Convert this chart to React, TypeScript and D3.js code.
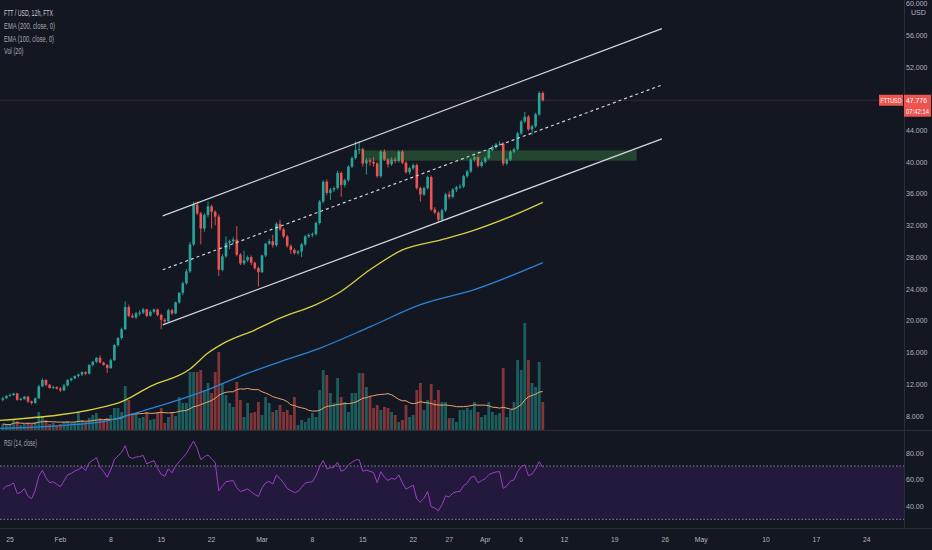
import * as d3 from "d3";
import { useEffect, useRef } from "react";

const W = 932;
const H = 550;

// first 12h candle: 24 Jan 2021 00:00 UTC
const firstBar = Date.UTC(2021, 0, 24);
const barMs = 12 * 3600 * 1000;

const opens = [
  10.0, 10.2, 10.5, 10.6, 10.8, 10.0, 10.1, 10.4, 9.8, 9.6, 10.2, 11.7, 12.5, 11.9, 11.5, 11.6, 11.4, 11.2, 11.8, 12.5,
  12.7, 13.0, 13.2, 13.5, 13.3, 14.4, 14.8, 15.3, 14.7, 14.4, 14.0, 15.0, 16.9, 17.8, 18.9, 21.7, 20.6, 20.4, 20.9, 21.0,
  21.4, 20.6, 21.1, 21.4, 20.7, 20.1, 19.9, 21.3, 20.9, 22.3, 23.5, 24.7, 26.2, 29.6, 34.6, 33.5, 31.6, 33.3, 34.4, 33.7,
  33.1, 26.4, 28.1, 29.8, 30.0, 30.2, 28.3, 27.2, 27.6, 28.0, 27.3, 26.6, 26.1, 28.2, 29.7, 30.0, 29.5, 32.2, 31.5, 30.6,
  29.4, 28.9, 28.5, 28.7, 29.6, 30.6, 30.8, 30.9, 32.3, 35.0, 37.5, 36.1, 36.5, 36.7, 38.6, 37.1, 37.7, 39.4, 40.5, 41.5,
  41.6, 39.8, 40.2, 40.0, 39.8, 38.2, 41.3, 40.3, 39.7, 40.3, 40.1, 41.3, 39.9, 38.7, 39.2, 39.6, 36.7, 35.9, 36.7, 38.1,
  34.0, 33.6, 32.7, 33.9, 35.9, 35.6, 36.5, 36.8, 36.9, 38.2, 38.8, 40.3, 40.6, 39.5, 40.0, 40.5, 41.5, 41.9, 42.2, 42.3,
  39.8, 40.3, 41.3, 41.6, 43.6, 45.1, 45.7, 44.1, 44.5, 46.0, 48.7,
];
const highs = [
  10.4, 10.6, 10.8, 10.9, 10.9, 10.3, 10.5, 10.5, 9.9, 10.3, 11.9, 12.7, 12.6, 12.0, 11.8, 11.7, 11.6, 12.0, 12.6, 12.8,
  13.1, 13.3, 13.6, 13.6, 14.5, 14.9, 15.4, 15.6, 14.8, 14.5, 15.2, 17.0, 17.9, 19.1, 22.4, 22.0, 20.9, 21.1, 21.3, 21.6,
  21.5, 21.3, 21.5, 21.5, 20.9, 20.3, 21.5, 21.5, 22.4, 23.6, 24.9, 26.5, 29.9, 35.0, 35.0, 33.7, 33.5, 35.0, 34.6, 33.9,
  33.4, 28.4, 30.6, 30.2, 30.5, 31.9, 28.5, 28.8, 28.2, 28.2, 27.4, 26.8, 28.3, 29.8, 30.3, 30.8, 32.4, 32.7, 31.7, 30.8,
  29.6, 29.1, 28.9, 29.8, 30.8, 31.0, 31.1, 32.5, 35.2, 37.7, 37.8, 36.7, 36.9, 38.9, 38.8, 37.9, 39.6, 40.7, 42.6, 42.6,
  41.8, 40.5, 40.5, 40.6, 40.0, 41.5, 41.6, 40.5, 40.6, 40.6, 41.5, 41.5, 40.1, 39.4, 39.8, 39.8, 36.9, 36.9, 38.3, 38.3,
  34.3, 33.8, 34.1, 36.1, 36.3, 36.7, 37.0, 37.2, 38.4, 39.0, 40.5, 40.8, 40.8, 40.2, 40.7, 41.7, 42.1, 42.4, 42.6, 42.5,
  40.5, 41.5, 41.8, 43.8, 45.3, 46.3, 45.9, 44.7, 46.2, 48.9, 48.9,
];
const lows = [
  9.8, 10.1, 10.4, 10.5, 9.9, 9.9, 10.0, 9.6, 9.4, 9.5, 10.1, 11.6, 11.7, 11.4, 11.4, 11.3, 11.0, 11.1, 11.7, 12.3,
  12.6, 12.8, 13.0, 13.1, 13.2, 14.2, 14.6, 14.6, 14.3, 13.4, 13.9, 14.9, 16.7, 17.6, 18.8, 20.4, 20.3, 20.2, 20.6, 20.8,
  20.4, 20.5, 20.9, 20.5, 18.9, 19.6, 19.8, 20.7, 20.8, 22.1, 23.2, 24.5, 26.0, 29.4, 33.3, 29.6, 31.2, 33.0, 31.6, 32.0,
  25.6, 26.2, 27.9, 29.0, 29.7, 28.1, 27.0, 27.0, 27.4, 27.0, 26.4, 24.3, 26.0, 28.0, 29.5, 29.2, 29.3, 31.3, 30.4, 29.2,
  28.4, 28.3, 28.3, 28.0, 29.4, 30.4, 30.5, 30.7, 32.1, 34.8, 35.8, 35.2, 36.2, 36.5, 35.6, 36.8, 37.5, 39.2, 40.3, 41.0,
  39.4, 38.4, 39.5, 39.4, 38.0, 38.0, 40.1, 39.3, 39.5, 39.8, 39.9, 39.7, 38.5, 38.4, 39.0, 36.5, 35.0, 35.7, 36.5, 33.8,
  33.4, 32.3, 32.5, 33.7, 35.3, 35.4, 36.2, 36.6, 36.7, 38.0, 38.6, 40.0, 39.3, 39.3, 39.8, 40.3, 41.3, 41.6, 42.0, 39.5,
  39.6, 40.1, 41.1, 41.4, 43.4, 44.9, 43.9, 43.4, 44.3, 45.8, 47.6,
];
const closes = [
  10.2, 10.5, 10.6, 10.8, 10.0, 10.1, 10.4, 9.8, 9.6, 10.2, 11.7, 12.5, 11.9, 11.5, 11.6, 11.4, 11.2, 11.8, 12.5, 12.7,
  13.0, 13.2, 13.5, 13.3, 14.4, 14.8, 15.3, 14.7, 14.4, 14.0, 15.0, 16.9, 17.8, 18.9, 21.7, 20.6, 20.4, 20.9, 21.0, 21.4,
  20.6, 21.1, 21.4, 20.7, 20.1, 19.9, 21.3, 20.9, 22.3, 23.5, 24.7, 26.2, 29.6, 34.6, 33.5, 31.6, 33.3, 34.4, 33.7, 33.1,
  26.4, 28.1, 29.8, 30.0, 30.2, 28.3, 27.2, 27.6, 28.0, 27.3, 26.6, 26.1, 28.2, 29.7, 30.0, 29.5, 32.2, 31.5, 30.6, 29.4,
  28.9, 28.5, 28.7, 29.6, 30.6, 30.8, 30.9, 32.3, 35.0, 37.5, 36.1, 36.5, 36.7, 38.6, 37.1, 37.7, 39.4, 40.5, 41.5, 41.6,
  39.8, 40.2, 40.0, 39.8, 38.2, 41.3, 40.3, 39.7, 40.3, 40.1, 41.3, 39.9, 38.7, 39.2, 39.6, 36.7, 35.9, 36.7, 38.1, 34.0,
  33.6, 32.7, 33.9, 35.9, 35.6, 36.5, 36.8, 36.9, 38.2, 38.8, 40.3, 40.6, 39.5, 40.0, 40.5, 41.5, 41.9, 42.2, 42.3, 39.8,
  40.3, 41.3, 41.6, 43.6, 45.1, 45.7, 44.1, 44.5, 46.0, 48.7, 47.776,
];
const volumes = [
  6, 5, 5, 11, 9, 5, 6, 7, 6, 8, 18, 14, 10, 6, 7, 5, 6, 8, 9, 7,
  8, 18, 10, 8, 12, 15, 17, 12, 10, 12, 15, 22, 22, 18, 44, 30, 17, 16, 12, 13,
  18, 10, 11, 18, 22, 7, 13, 18, 14, 33, 27, 27, 58, 58, 58, 60, 40, 47, 37, 58,
  78, 47, 35, 27, 23, 48, 30, 13, 27, 17, 18, 28, 15, 33, 27, 18, 20, 25, 18, 20,
  15, 33, 5, 10, 8, 12, 17, 13, 40, 60, 55, 37, 27, 52, 33, 28, 18, 37, 37, 57,
  57, 43, 33, 22, 25, 20, 23, 22, 18, 15, 8, 10, 25, 13, 15, 40, 47, 20, 30, 46,
  30, 40, 28, 28, 12, 12, 8, 20, 20, 22, 20, 28, 18, 13, 15, 28, 18, 15, 17, 62,
  13, 20, 28, 70, 60, 107, 70, 47, 43, 68, 28,
];

// EMA lines: [bar index, price]
const ema100Points: [number, number][] = [
  [-1, 7.4], [32, 9.6], [41, 11.7], [52, 13.9], [57, 15.9], [62, 17.3], [70, 18.8], [77, 20.3], [87, 22.0],
  [93, 23.4], [102, 26.4], [111, 28.9], [122, 30.2], [131, 31.4], [141, 33.1], [150, 34.9],
];
const ema200Points: [number, number][] = [
  [-1, 6.4], [27, 7.2], [41, 8.9], [57, 11.3], [66, 13.0], [77, 14.8], [88, 16.5], [102, 19.2], [116, 22.0],
  [131, 23.9], [150, 27.3],
];

// parallel channel drawing
const channelTimes = [Date.UTC(2021, 1, 15, 5), Date.UTC(2021, 3, 25, 13)];
const channelUpper = [33.2, 56.8];
const channelMid = [26.4, 49.7];
const channelLower = [19.45, 42.9];

// green zone drawing
const zoneTimes = [Date.UTC(2021, 2, 14, 20), Date.UTC(2021, 3, 22, 1)];
const zonePrices = [40.15, 41.45];

const priceTicks = [8, 12, 16, 20, 24, 28, 32, 36, 40, 44, 52, 56, 60];
const rsiTicks = [80, 60, 40];
const timeTicks: [number, string][] = [
  [Date.UTC(2021, 0, 25), "25"], [Date.UTC(2021, 1, 1), "Feb"], [Date.UTC(2021, 1, 8), "8"],
  [Date.UTC(2021, 1, 15), "15"], [Date.UTC(2021, 1, 22), "22"], [Date.UTC(2021, 2, 1), "Mar"],
  [Date.UTC(2021, 2, 8), "8"], [Date.UTC(2021, 2, 15), "15"], [Date.UTC(2021, 2, 22), "22"],
  [Date.UTC(2021, 2, 27), "27"], [Date.UTC(2021, 3, 1), "Apr"], [Date.UTC(2021, 3, 6), "6"],
  [Date.UTC(2021, 3, 12), "12"], [Date.UTC(2021, 3, 19), "19"], [Date.UTC(2021, 3, 26), "26"],
  [Date.UTC(2021, 4, 1), "May"], [Date.UTC(2021, 4, 10), "10"], [Date.UTC(2021, 4, 17), "17"],
  [Date.UTC(2021, 4, 24), "24"],
];
const legendLines = ["FTT / USD, 12h, FTX", "EMA (200, close, 0)", "EMA (100, close, 0)", "Vol (20)"];
const legendWidths = [49, 51, 50, 19.5];

const UP = "#26a69a";
const DOWN = "#ef5350";
const BG = "#131722";
const TEXT = "#b2b5be";
const BORDER = "#2a2e39";
const FONT = "'Liberation Sans', Arial, sans-serif";

// TradingView's UI font is narrower than Liberation Sans: squeeze the glyphs
function squeeze(sel: d3.Selection<SVGTextElement, any, any, any>, ratio: number) {
  sel.each(function () {
    const w = this.getComputedTextLength();
    if (w > 0) d3.select(this).attr("textLength", w * ratio).attr("lengthAdjust", "spacingAndGlyphs");
  });
}

export default function App() {
  const svgRef = useRef<SVGSVGElement | null>(null);

  useEffect(() => {
    if (!svgRef.current) return;
    const svg = d3.select(svgRef.current);
    svg.selectAll("*").remove();

    const plotRight = 904;
    const mainBottom = 430;
    const rsiTop = 431;
    const rsiBottom = 528;

    const x = d3.scaleUtc().domain([Date.UTC(2021, 0, 25), Date.UTC(2021, 4, 24)]).range([10, 866.8]);
    const y = d3.scaleLinear().domain([8, 60]).range([415.7, 3.3]);
    const yVol = d3.scaleLinear().domain([0, d3.max(volumes) ?? 1]).range([mainBottom, 323]);
    const yRsi = d3.scaleLinear().domain([40, 80]).range([506, 452.7]);

    const barTime = (i: number) => firstBar + i * barMs;
    const bars = closes.map((c, i) => ({ i, t: barTime(i), o: opens[i], h: highs[i], l: lows[i], c, v: volumes[i] }));

    svg.append("rect").attr("width", W).attr("height", H).attr("fill", BG);

    const defs = svg.append("defs");
    defs.append("clipPath").attr("id", "mainClip").append("rect")
      .attr("x", 0).attr("y", 0).attr("width", plotRight).attr("height", mainBottom);
    defs.append("clipPath").attr("id", "rsiClip").append("rect")
      .attr("x", 0).attr("y", rsiTop).attr("width", plotRight).attr("height", rsiBottom - rsiTop);

    const main = svg.append("g").attr("clip-path", "url(#mainClip)");

    // volume bars
    main.append("g").selectAll("rect").data(bars).join("rect")
      .attr("x", (d) => x(d.t) - 1.4)
      .attr("width", 2.8)
      .attr("y", (d) => yVol(d.v))
      .attr("height", (d) => mainBottom - yVol(d.v))
      .attr("fill", (d) => (d.c >= d.o ? UP : DOWN))
      .attr("fill-opacity", 0.5);

    // volume MA 20
    const volMa = volumes.map((_, i) => d3.mean(volumes.slice(Math.max(0, i - 19), i + 1)) ?? 0);
    main.append("path")
      .datum(volMa)
      .attr("fill", "none")
      .attr("stroke", "#e8a66e")
      .attr("stroke-width", 1)
      .attr("d", d3.line<number>().x((_, i) => x(barTime(i))).y((v) => yVol(v)));

    // EMA lines
    const emaLine = d3.line<[number, number]>()
      .x((d) => x(barTime(d[0])))
      .y((d) => y(d[1]))
      .curve(d3.curveMonotoneX);
    main.append("path").datum(ema200Points).attr("fill", "none").attr("stroke", "#2a83d6")
      .attr("stroke-width", 1.3).attr("d", emaLine);
    main.append("path").datum(ema100Points).attr("fill", "none").attr("stroke", "#d9cf3e")
      .attr("stroke-width", 1.3).attr("d", emaLine);

    // last price line
    const last = closes[closes.length - 1];
    main.append("line")
      .attr("x1", 0).attr("x2", plotRight)
      .attr("y1", y(last)).attr("y2", y(last))
      .attr("stroke", "#35293a").attr("stroke-width", 1);

    // candles
    const candles = main.append("g").selectAll("g").data(bars).join("g");
    candles.append("line")
      .attr("x1", (d) => x(d.t)).attr("x2", (d) => x(d.t))
      .attr("y1", (d) => y(d.h)).attr("y2", (d) => y(d.l))
      .attr("stroke", (d) => (d.c >= d.o ? UP : DOWN))
      .attr("stroke-width", 0.9);
    candles.append("rect")
      .attr("x", (d) => x(d.t) - 1.3)
      .attr("width", 2.6)
      .attr("y", (d) => y(Math.max(d.o, d.c)))
      .attr("height", (d) => Math.max(1, Math.abs(y(d.o) - y(d.c))))
      .attr("fill", (d) => (d.c >= d.o ? UP : DOWN));

    // green zone
    main.append("rect")
      .attr("x", x(zoneTimes[0]))
      .attr("width", x(zoneTimes[1]) - x(zoneTimes[0]))
      .attr("y", y(zonePrices[1]))
      .attr("height", y(zonePrices[0]) - y(zonePrices[1]))
      .attr("fill", "rgba(76,175,80,0.3)");

    // channel
    const chan = (prices: number[], dashed: boolean) =>
      main.append("line")
        .attr("x1", x(channelTimes[0])).attr("y1", y(prices[0]))
        .attr("x2", x(channelTimes[1])).attr("y2", y(prices[1]))
        .attr("stroke", "#d1d4dc")
        .attr("stroke-width", dashed ? 1.2 : 1.3)
        .attr("stroke-dasharray", dashed ? "3 3" : null);
    chan(channelUpper, false);
    chan(channelMid, true);
    chan(channelLower, false);

    // RSI (14) computed from closes, Wilder smoothing
    const rsi: number[] = [];
    let avgGain = 0.22;
    let avgLoss = 0.2;
    closes.forEach((c, i) => {
      if (i > 0) {
        const ch = c - closes[i - 1];
        avgGain = (avgGain * 13 + Math.max(ch, 0)) / 14;
        avgLoss = (avgLoss * 13 + Math.max(-ch, 0)) / 14;
      }
      rsi.push(100 - 100 / (1 + avgGain / avgLoss));
    });

    const rsiG = svg.append("g").attr("clip-path", "url(#rsiClip)");
    rsiG.append("rect")
      .attr("x", 0).attr("width", plotRight)
      .attr("y", yRsi(70)).attr("height", yRsi(30) - yRsi(70))
      .attr("fill", "#22193c");
    [70, 30].forEach((lvl) =>
      rsiG.append("line")
        .attr("x1", 0).attr("x2", plotRight)
        .attr("y1", yRsi(lvl)).attr("y2", yRsi(lvl))
        .attr("stroke", "#8a8d96").attr("stroke-width", 1).attr("stroke-dasharray", "1.5 2")
    );
    rsiG.append("path")
      .datum(rsi)
      .attr("fill", "none")
      .attr("stroke", "#a03cc8")
      .attr("stroke-width", 1)
      .attr("d", d3.line<number>().x((_, i) => x(barTime(i))).y((v) => yRsi(v)));

    // pane borders
    svg.append("line").attr("x1", 0).attr("x2", W).attr("y1", 430.5).attr("y2", 430.5).attr("stroke", BORDER);
    svg.append("line").attr("x1", 0).attr("x2", W).attr("y1", 528.5).attr("y2", 528.5).attr("stroke", BORDER);
    svg.append("line").attr("x1", plotRight + 0.5).attr("x2", plotRight + 0.5).attr("y1", 0).attr("y2", 529)
      .attr("stroke", BORDER);

    // price axis labels
    const txt = svg.append("g").attr("font-family", FONT).attr("fill", TEXT).attr("font-size", 8);
    txt.selectAll("text.p").data(priceTicks).join("text")
      .attr("class", "p")
      .attr("x", 906)
      .attr("y", (d) => y(d))
      .attr("dy", "0.35em")
      .text((d) => d3.format(".3f")(d))
      .call(squeeze, 0.88);
    txt.append("text").attr("x", 911).attr("y", 15).text("USD").call(squeeze, 0.88);
    txt.selectAll("text.r").data(rsiTicks).join("text")
      .attr("class", "r")
      .attr("x", 906)
      .attr("y", (d) => yRsi(d))
      .attr("dy", "0.35em")
      .text((d) => d3.format(".2f")(d))
      .call(squeeze, 0.88);

    // time axis
    txt.selectAll("text.t").data(timeTicks).join("text")
      .attr("class", "t")
      .attr("x", (d) => x(d[0]))
      .attr("y", 539)
      .attr("dy", "0.35em")
      .attr("text-anchor", "middle")
      .text((d) => d[1])
      .call(squeeze, 0.85);

    // last price labels
    const lastY = y(last);
    svg.append("rect").attr("x", 879).attr("y", lastY - 5.5).attr("width", 24).attr("height", 11).attr("fill", DOWN);
    svg.append("rect").attr("x", 904).attr("y", lastY - 5.5).attr("width", 27).attr("height", 22).attr("fill", DOWN);
    const lbl = svg.append("g").attr("font-family", FONT).attr("fill", "#ffffff").attr("font-size", 7.5);
    lbl.append("text").attr("x", 880.5).attr("y", lastY).attr("dy", "0.35em")
      .attr("textLength", 21).attr("lengthAdjust", "spacingAndGlyphs").text("FTTUSD");
    lbl.append("text").attr("x", 906).attr("y", lastY).attr("dy", "0.35em")
      .attr("textLength", 21).attr("lengthAdjust", "spacingAndGlyphs").text(d3.format(".3f")(last));
    lbl.append("text").attr("x", 906).attr("y", lastY + 11).attr("dy", "0.35em")
      .attr("textLength", 23).attr("lengthAdjust", "spacingAndGlyphs").text("07:42:14");

    // legends
    const leg = svg.append("g").attr("font-family", FONT).attr("font-size", 8.5);
    leg.selectAll("text").data(legendLines).join("text")
      .attr("x", 4)
      .attr("y", (_, i) => 13 + i * 12.8)
      .attr("dy", "0.35em")
      .attr("fill", (_, i) => (i === 0 ? "#c9ccd3" : "#a6a9b2"))
      .attr("textLength", (_, i) => legendWidths[i])
      .attr("lengthAdjust", "spacingAndGlyphs")
      .text((d) => d);
    svg.append("text").attr("x", 4).attr("y", 443).attr("dy", "0.35em")
      .attr("font-family", FONT).attr("font-size", 8.5).attr("fill", "#a6a9b2")
      .attr("textLength", 33).attr("lengthAdjust", "spacingAndGlyphs").text("RSI (14, close)");
  }, []);

  return (
    <svg
      ref={svgRef}
      width={W}
      height={H}
      style={{ position: "fixed", left: 0, top: 0, display: "block" }}
    ></svg>
  );
}
